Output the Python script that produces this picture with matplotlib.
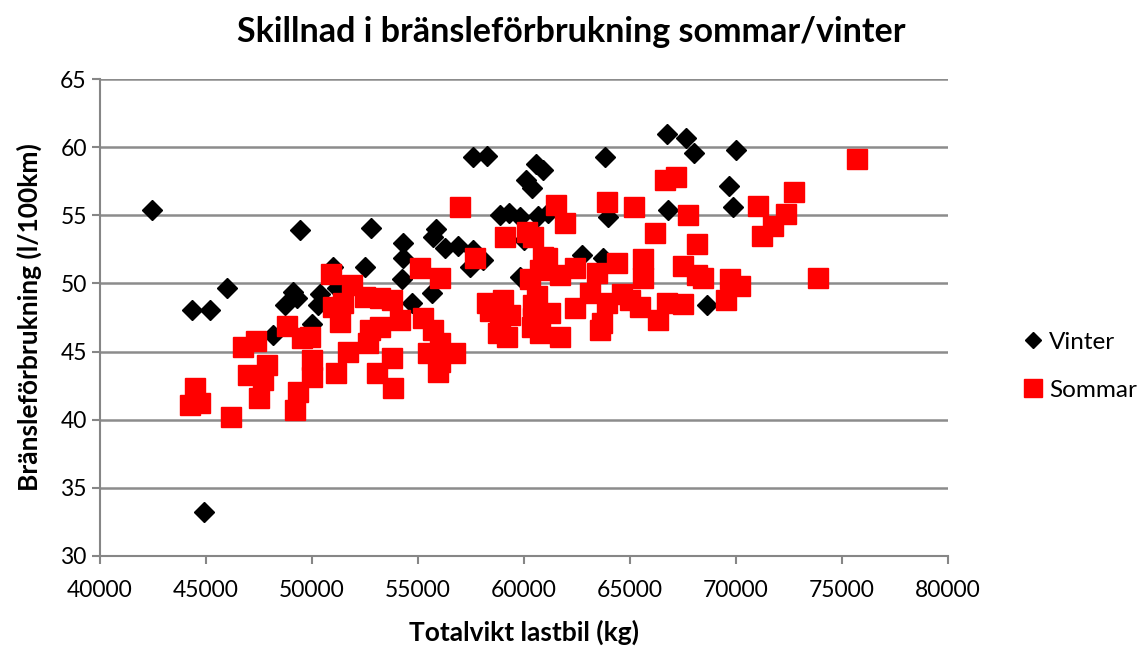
import matplotlib
matplotlib.use("Agg")
import matplotlib.pyplot as plt

plt.rcParams['font.family'] = ['Lato', 'DejaVu Sans']

# Vinter (winter) measurements: total weight (kg), fuel use (l/100km)
vinter_vikt = [42450, 44340, 45190, 45990, 44900, 48160, 48730, 49100, 49300, 49430,
               50000, 50280, 50380, 50990, 51180, 52500, 52780, 54290, 54290, 54250,
               54720, 55660, 55850, 55710, 56270, 56890, 57450, 57590, 58070, 57594,
               58255, 58870, 59290, 59810, 60660, 61130, 60000, 59810, 60090, 60380,
               60570, 60900, 62730, 63730, 63820, 63960, 66745, 66790, 67640, 68020,
               69670, 69860, 70000, 68630]
vinter_forbr = [55.4, 48.05, 48.05, 49.7, 33.2, 46.2, 48.4, 49.4, 48.9, 53.9,
                47.0, 48.4, 49.2, 51.2, 49.7, 51.2, 54.1, 53.0, 51.9, 50.3,
                48.6, 49.3, 54.0, 53.4, 52.6, 52.75, 51.2, 52.45, 51.7, 59.3,
                59.35, 55.0, 55.2, 54.9, 54.95, 55.2, 53.2, 50.5, 57.6, 57.0,
                58.8, 58.3, 52.1, 51.9, 59.3, 54.9, 61.0, 55.4, 60.7, 59.6,
                57.15, 55.6, 59.8, 48.4]

# Sommar (summer) measurements
sommar_vikt = [44250, 44480, 44720, 46180, 46740, 47360, 46980, 47880, 47690, 47500,
               48820, 49340, 49200, 49530, 49910, 50000, 50000, 50900, 50990, 51320,
               51130, 51700, 51890, 51460, 52500, 53210, 53780, 54150, 52740, 53210,
               52640, 53780, 53070, 53820, 55090, 56040, 55240, 55710, 56040, 56750,
               55470, 55940, 56040, 56980, 57690, 58260, 58400, 58870, 59200, 58770,
               59010, 59100, 59340, 60140, 60420, 60280, 60750, 60610, 60900, 60420,
               60750, 60380, 60420, 61230, 61700, 61520, 61930, 61090, 61700, 62400,
               62400, 63440, 63900, 63110, 63900, 63590, 63680, 64380, 64610, 64990,
               65200, 65470, 65610, 65610, 66180, 66320, 66650, 67170, 66740, 67500,
               67500, 67740, 68160, 68160, 68440, 69530, 69720, 70190, 71040, 71230,
               71750, 72360, 72740, 73870, 75710]
sommar_forbr = [41.1, 42.3, 41.2, 40.2, 45.3, 45.8, 43.3, 44.0, 42.9, 41.6,
                46.9, 42.0, 40.7, 46.0, 46.1, 44.4, 43.1, 50.7, 48.3, 47.2,
                43.4, 45.0, 49.9, 48.6, 49.0, 48.9, 48.8, 47.3, 46.6, 46.8,
                45.6, 44.5, 43.4, 42.3, 51.1, 50.4, 47.5, 46.6, 45.6, 44.9,
                44.9, 43.5, 44.2, 55.6, 51.9, 48.6, 48.0, 47.3, 46.1, 46.4,
                48.8, 53.4, 47.7, 53.8, 53.4, 50.3, 51.0, 49.1, 51.95, 47.5,
                46.4, 46.8, 48.4, 47.8, 46.1, 55.75, 54.4, 51.9, 50.6, 51.1,
                48.2, 50.8, 56.0, 49.3, 48.6, 46.6, 47.1, 51.5, 49.2, 48.8,
                55.6, 48.3, 51.8, 50.4, 53.7, 47.3, 57.6, 57.8, 48.6, 48.5,
                51.3, 55.0, 52.9, 50.6, 50.4, 48.8, 50.3, 49.8, 55.7, 53.5,
                54.2, 55.1, 56.7, 50.4, 59.1]

x_ticks = [40000, 45000, 50000, 55000, 60000, 65000, 70000, 75000, 80000]
y_ticks = [30, 35, 40, 45, 50, 55, 60, 65]

fig = plt.figure(figsize=(11.42, 6.48), dpi=100)
ax = fig.add_axes([0.0876, 0.142, 0.7425, 0.736])

ax.plot(vinter_vikt, vinter_forbr, linestyle='none', marker='D', markersize=10,
        color='black', label='Vinter', zorder=3)
ax.plot(sommar_vikt, sommar_forbr, linestyle='none', marker='s', markersize=14.5,
        color='#ff0000', label='Sommar', zorder=4)

ax.set_xlim(40000, 80000)
ax.set_ylim(30, 65)
ax.set_xticks(x_ticks)
ax.set_yticks(y_ticks)
ax.tick_params(labelsize=16.5, colors='#868686', length=6, width=1.5)
ax.tick_params(axis='x', pad=11)
for lbl in ax.get_xticklabels() + ax.get_yticklabels():
    lbl.set_color('black')

ax.yaxis.grid(True, color='#8c8c8c', linewidth=1.8)
ax.set_axisbelow(True)
for side in ['top', 'right']:
    ax.spines[side].set_visible(False)
for side in ['left', 'bottom']:
    ax.spines[side].set_color('#868686')
    ax.spines[side].set_linewidth(1.5)

ax.set_xlabel('Totalvikt lastbil (kg)', fontsize=19, fontweight='bold', labelpad=14)
ax.set_ylabel('Bränsleförbrukning (l/100km)', fontsize=19, fontweight='bold', labelpad=13)
fig.suptitle('Skillnad i bränsleförbrukning sommar/vinter', fontsize=24.5,
             fontweight='bold', y=0.975)

fig.legend(loc='center left', bbox_to_anchor=(0.895, 0.435), frameon=False,
           fontsize=17.5, handlelength=0.9, handletextpad=0.2, labelspacing=1.1,
           borderpad=0, borderaxespad=0, markerscale=0.85)

fig.savefig('out.png', dpi=100)
